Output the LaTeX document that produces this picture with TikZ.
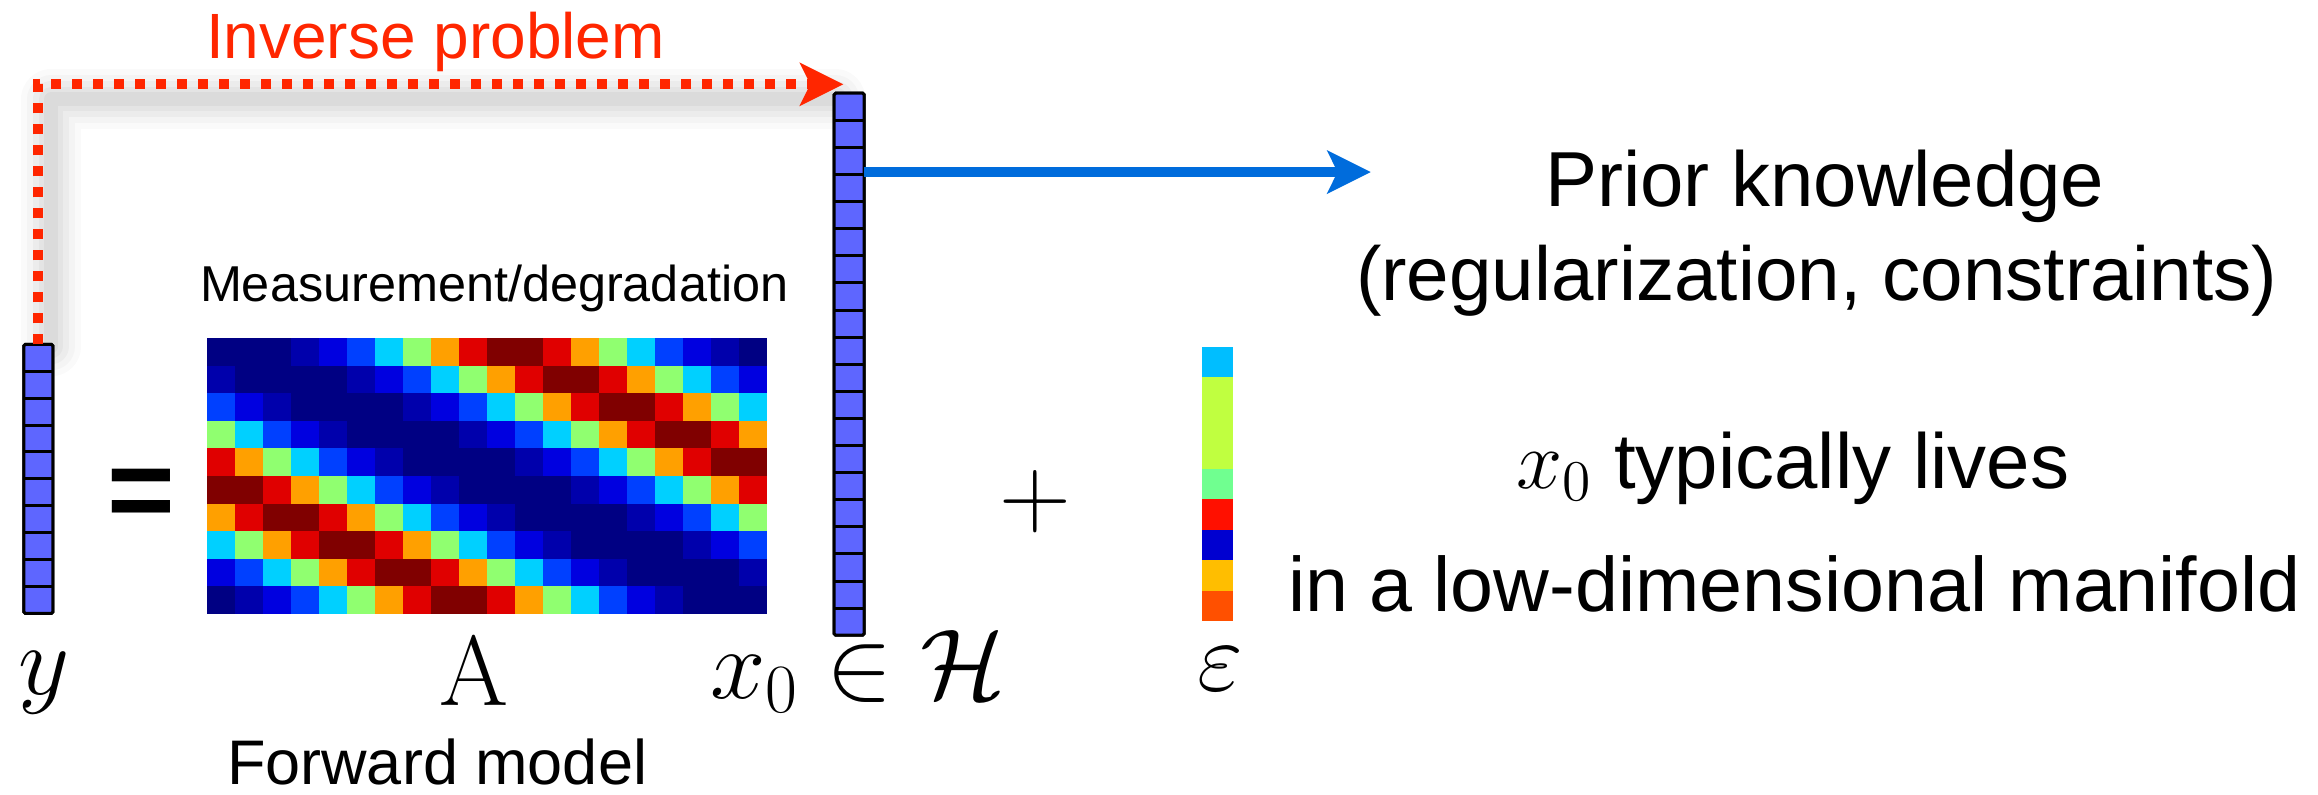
\documentclass[tikz,border=0pt]{standalone}
\usepackage[no-math]{fontspec}
\newfontfamily\arial{Liberation Sans}
\usetikzlibrary{arrows.meta,calc}
\definecolor{vecblue}{RGB}{94,102,255}
\definecolor{invred}{RGB}{255,38,0}
\definecolor{arrblue}{RGB}{0,108,220}
\definecolor{jet0}{RGB}{0,0,131}
\definecolor{jet1}{RGB}{0,0,172}
\definecolor{jet2}{RGB}{0,0,224}
\definecolor{jet3}{RGB}{0,64,255}
\definecolor{jet4}{RGB}{0,208,255}
\definecolor{jet5}{RGB}{144,255,112}
\definecolor{jet6}{RGB}{255,160,0}
\definecolor{jet7}{RGB}{224,0,0}
\definecolor{jet8}{RGB}{128,0,0}
\definecolor{epsA}{RGB}{0,190,255}
\definecolor{epsB}{RGB}{192,255,64}
\definecolor{epsC}{RGB}{112,255,144}
\definecolor{epsD}{RGB}{255,16,0}
\definecolor{epsE}{RGB}{0,0,208}
\definecolor{epsF}{RGB}{255,190,0}
\definecolor{epsG}{RGB}{255,80,0}
\begin{document}
\begin{tikzpicture}[x=0.25pt,y=-0.25pt,
  vecbox/.style={draw=black,line width=0.75pt,fill=vecblue,inner sep=0pt,outer sep=0pt,rounded corners=0.4pt},
  gridline/.style={draw=black,line width=0.75pt},
  txt/.style={inner sep=0pt,outer sep=0pt,anchor=base west,text=black},
  sanslbl/.style={txt,font=\arial\fontsize{#1}{#1}\selectfont},
  mathlbl/.style={txt,font=\fontsize{25pt}{30pt}\selectfont},
  invarrow/.style={draw=invred,line width=2.5pt,dash pattern=on 2.5pt off 2.75pt,
     -{Stealth[length=11pt,width=11pt,inset=2.75pt,line width=0pt]}},
  priorarrow/.style={draw=arrblue,line width=2.5pt,
     -{Stealth[length=11pt,width=11pt,inset=2.7pt,line width=0pt]}},
  shadowline/.style={draw=black,line join=round,line cap=round},
]
\useasboundingbox (0,0) rectangle (2318,794);

% ---------- nodes (vectors and matrix) ----------
\node[vecbox,minimum width=7.25pt,minimum height=67.3pt] (yvec) at (38.3,478.85) {};
\node[vecbox,minimum width=7.5pt,minimum height=135.5pt] (xvec) at (849.2,364.2) {};
\node[inner sep=0pt,outer sep=0pt,minimum width=140pt,minimum height=69pt] (Amat) at (487,476) {};
\node[inner sep=0pt,outer sep=0pt,minimum width=7.825pt,minimum height=68.575pt] (eps) at (1217.35,483.85) {};

\coordinate (invTip) at (843.3,84.3);
\coordinate (priorTip) at (1370.7,172);

% ---------- shadow of the inverse-problem arrow ----------
\foreach \w/\op in {15pt/0.02,12pt/0.025,9pt/0.03,6pt/0.035,3.5pt/0.04}{
  \draw[shadowline,line width=\w,opacity=\op]
    ($(yvec.north)+(13,2)$) |- ($(invTip)+(-8,15)$);
}

% redraw vectors on top of shadow
\node[vecbox,minimum width=7.25pt,minimum height=67.3pt] at (yvec) {};
\node[vecbox,minimum width=7.5pt,minimum height=135.5pt] at (xvec) {};
\foreach \k in {1,...,9}{
  \draw[gridline] ($(yvec.north west)!\k/10!(yvec.south west)$) -- ($(yvec.north east)!\k/10!(yvec.south east)$);
}
\foreach \k in {1,...,19}{
  \draw[gridline] ($(xvec.north west)!\k/20!(xvec.south west)$) -- ($(xvec.north east)!\k/20!(xvec.south east)$);
}

% ---------- matrix A ----------
\foreach \r in {0,...,9}{
  \foreach \c in {0,...,19}{
    \pgfmathtruncatemacro\kk{mod(\c-2*\r+40,20)}
    \pgfmathtruncatemacro\vv{{0,0,0,1,2,3,4,5,6,7,8,8,7,6,5,4,3,2,1,0}[\kk]}
    \fill[jet\vv] ($(Amat.north west)+(\c*28,\r*27.6)$) rectangle ++(28.4,28);
  }
}

% ---------- noise vector ----------
\foreach \col [count=\i from 0] in {epsA,epsB,epsB,epsB,epsC,epsD,epsE,epsF,epsG}{
  \fill[\col] ($(eps.north west)+(0,\i*30.48)$) rectangle ++(31.3,30.7);
}

% ---------- arrows ----------
\draw[invarrow] (yvec.north) |- (invTip);
\draw[priorarrow] (xvec.east |- priorTip) -- (priorTip);

% ---------- texts ----------
\node[sanslbl=16pt,text=invred] (tinv) at (206,58.5) {Inverse problem};
\node[sanslbl=12.6pt] (tmeas) at (200,301.7) {Measurement/degradation};
\node[sanslbl=15.75pt] (tfwd) at (227,784) {Forward model};
\node[sanslbl=19.5pt] (tprior) at (1545,206.7) {Prior knowledge};
\node[sanslbl=19.1pt] (treg) at (1356,300) {(regularization, constraints)};
\node[sanslbl=19.5pt] (tlive) at (1516,488) {$x_0$ typically lives};
\node[sanslbl=19.3pt] (tmani) at (1288,611.7) {in a low-dimensional manifold};

\node[txt,anchor=base,font=\arial\bfseries\fontsize{29pt}{29pt}\selectfont] (eq) at (141.5,529) {=};
\node[txt,anchor=base,font=\fontsize{25pt}{30pt}\selectfont] (plus) at (1035,526) {$+$};

\node[mathlbl] (ly) at (19,694) {$y$};
\node[mathlbl] (lA) at (439,705.7) {$\mathrm{A}$};
\node[mathlbl] (lx) at (710,698) {$x_0\in\mathcal{H}$};
\node[mathlbl] (le) at (1197,690) {$\varepsilon$};
\end{tikzpicture}
\end{document}
